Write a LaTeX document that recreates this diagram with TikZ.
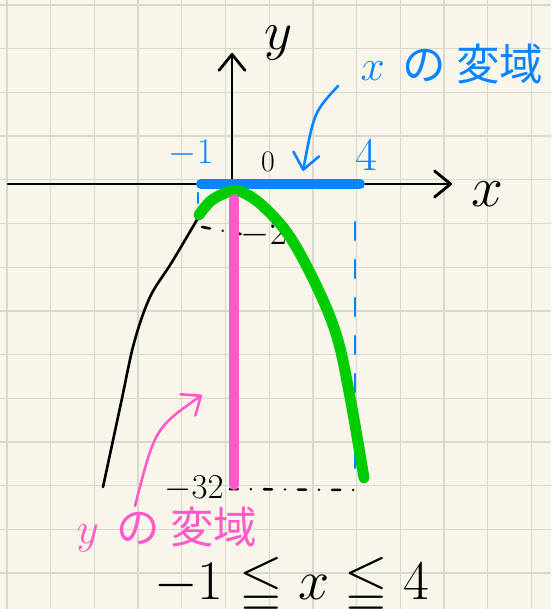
\documentclass[tikz,border=0pt]{standalone}
\usepackage{fontspec}
\usepackage{amsmath, amssymb}
\newfontfamily\jpfont{Noto Sans CJK JP}
\definecolor{PaperCream}{RGB}{248,246,235}
\definecolor{GridGrey}{RGB}{216,216,204}
\definecolor{DomainBlue}{RGB}{10,132,255}
\definecolor{CurveGreen}{RGB}{0,204,0}
\definecolor{RangePink}{RGB}{255,90,200}
\usetikzlibrary{arrows.meta, calc}

\tikzset{
  barb/.style={-{Straight Barb[length=16pt, width=26pt, round]}, line cap=round, line join=round},
  leader/.style={line width=2.6pt, line cap=round, dash pattern=on 8pt off 13pt on 0.1pt off 13pt},
  hand/.style={font=\Huge, inner sep=0pt},
}

\begin{document}
\begin{tikzpicture}[x=1pt, y=-1pt]
      \useasboundingbox (0,0) rectangle (551,609);
      \fill[PaperCream] (0,0) rectangle (551,609);

      % squared paper
      \foreach \i in {0,...,12}
        \draw[GridGrey, line width=1.3pt] ({7+43.7*\i},0) -- ++(0,609);
      \foreach \j in {0,...,13}
        \draw[GridGrey, line width=1.3pt] (0,{5+43.7*\j}) -- ++(551,0);

      % axes
      \coordinate (xleft) at (8,184);
      \coordinate (xright) at (452,184);
      \coordinate (origin) at (232,184);
      \coordinate (ytop) at (232,53);
      \draw[barb, line width=2.8pt] (xleft) -- (xright);
      \draw[barb, line width=2.8pt] (origin) -- (ytop);
      \node[hand, scale=2.3] (xlab) at (487,194) {$x$};
      \node[hand, scale=2.2] (ylab) at (279,43) {$y$};

      % domain of x
      \draw[DomainBlue, line width=2.6pt, line cap=round, dash pattern=on 18pt off 20pt]
            (355,222) -- (355,482);
      \draw[DomainBlue, line width=2.6pt, line cap=round] (198,193) -- (198,203);
      \draw[DomainBlue, line width=10pt, line cap=round] (201,184) -- (360,184);

      % rest of the parabola
      \draw[line width=2.6pt, line cap=round]
            plot[smooth, tension=0.55] coordinates {(198,218) (172,262) (150,297)
            (134,343) (121,403) (103,487)};

      % leaders to -2 and -32
      \node[hand, scale=1.5] (lminus2) at (264,234) {$-2$};
      \node[hand, scale=1.4] (lminus32) at (194,489) {$-32$};
      \coordinate (gstart) at (202,227);
      \coordinate (gend) at (355,490);
      \draw[leader] (gstart) -- (lminus2.west);
      \draw[leader] ([xshift=6pt]lminus32.east) -- (gend);

      % y = -2x^2 on -1 <= x <= 4
      \draw[CurveGreen, line width=11pt, line cap=round]
            plot[smooth, tension=0.6] coordinates {(199,215) (212,200) (232,191)
            (246,194) (265,208) (290,237) (317,287) (337,337) (350,397) (364,478)};

      % range of y
      \draw[RangePink, line width=10pt, line cap=round] (234,199) -- (234,485);

      \node[hand, scale=1.45, text=DomainBlue] (lminus1) at (191,153) {$-1$};
      \node[hand, scale=1.2] (lzero) at (268,162) {0};
      \node[hand, scale=1.9, text=DomainBlue] (lfour) at (366,155) {4};

      % labels with arrows
      \node[hand, scale=1.75, text=DomainBlue] (xdomain) at (452,64)
            {$x$\hspace{10pt}\jpfont の\hspace{6pt}変域};
      \coordinate (xfrom) at (338,86);
      \coordinate (xto) at (303,171);
      \draw[barb, DomainBlue, line width=2.6pt] (xfrom) .. controls (314,112) .. (xto);

      \node[hand, scale=1.75, text=RangePink] (ydomain) at (167,529)
            {$y$\hspace{10pt}\jpfont の\hspace{6pt}変域};
      \coordinate (yfrom) at (135,506);
      \coordinate (yto) at (202,395);
      \draw[barb, RangePink, line width=2.6pt] (yfrom) .. controls (155,428) .. (yto);

      \node[hand, scale=2.25] (cond) at (292,585) {$-1 \leqq x \leqq 4$};
    \end{tikzpicture}
\end{document}
